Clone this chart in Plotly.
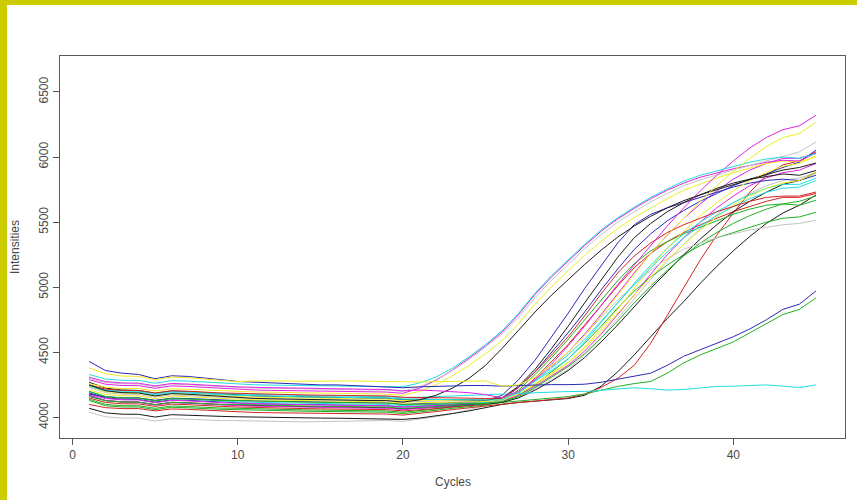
import plotly.graph_objects as go

# qPCR amplification curves: fluorescence intensity per cycle, one curve per well
cycles = list(range(1, 46))

# early amplifiers
a_cyan = [4330,4295,4285,4285,4262,4283,4279,4271,4263,4255,4251,4248,4246,4243,4241,4240,4238,4236,4236,4235,
          4265,4310,4380,4465,4560,4665,4800,4955,5090,5210,5330,5440,5535,5615,5690,5755,5815,5860,5895,5930,5960,5985,6000,5990,6025]
a_magenta = [4290,4255,4245,4244,4224,4242,4238,4230,4222,4215,4211,4208,4206,4203,4201,4200,4198,4196,4195,4185,
             4225,4285,4365,4455,4550,4655,4790,4945,5080,5200,5320,5430,5525,5605,5680,5745,5800,5845,5880,5910,5935,5960,5975,5970,6030]
a_gray = [4300,4268,4258,4257,4236,4255,4251,4243,4236,4230,4226,4223,4221,4218,4216,4215,4213,4211,4210,4200,
          4235,4290,4360,4445,4540,4640,4770,4920,5055,5175,5295,5405,5500,5580,5655,5720,5780,5825,5865,5900,5935,5970,6000,6040,6115]
a_yellow = [4260,4232,4222,4222,4203,4220,4216,4209,4203,4200,4196,4193,4191,4188,4186,4185,4183,4181,4180,4170,
            4200,4250,4320,4400,4490,4590,4720,4870,5005,5125,5245,5355,5450,5535,5610,5680,5745,5795,5840,5880,5915,5950,5970,5965,6000]
a_black = [4250,4205,4190,4188,4165,4183,4178,4170,4160,4150,4146,4143,4140,4137,4135,4134,4132,4130,4129,4118,
           4135,4170,4225,4300,4400,4530,4670,4810,4940,5060,5175,5285,5385,5470,5545,5610,5665,5710,5750,5790,5830,5865,5900,5920,5954]

# main group
b_blue1 = [4180,4158,4150,4150,4132,4148,4145,4139,4134,4130,4127,4124,4122,4120,4118,4117,4115,4113,4112,4102,
           4108,4112,4115,4118,4125,4170,4290,4440,4620,4800,4990,5170,5340,5480,5560,5610,5650,5690,5730,5770,5800,5820,5830,5820,5860]
b_black1 = [4270,4225,4210,4207,4185,4203,4198,4190,4180,4170,4166,4163,4160,4157,4155,4154,4152,4150,4149,4138,
            4140,4140,4138,4135,4132,4150,4240,4370,4530,4700,4880,5060,5230,5380,5490,5580,5650,5710,5760,5800,5830,5850,5870,5860,5897]
b_blue2 = [4190,4150,4140,4138,4118,4135,4131,4124,4117,4110,4106,4103,4101,4098,4096,4095,4093,4091,4090,4080,
           4085,4090,4095,4100,4108,4140,4230,4350,4500,4650,4810,4980,5140,5290,5410,5510,5590,5660,5720,5780,5830,5870,5920,5960,6053]
b_magenta1 = [4310,4275,4265,4263,4242,4261,4256,4248,4241,4235,4231,4228,4226,4223,4221,4220,4218,4216,4215,4204,
              4210,4205,4200,4190,4175,4150,4200,4290,4410,4550,4700,4860,5020,5170,5320,5470,5610,5740,5860,5970,6070,6150,6210,6240,6321]
b_yellow1 = [4380,4335,4318,4315,4290,4310,4305,4296,4285,4275,4280,4282,4280,4278,4280,4282,4280,4278,4276,4270,
             4272,4275,4278,4282,4280,4240,4250,4310,4400,4500,4630,4780,4940,5100,5260,5400,5530,5660,5780,5890,5990,6080,6150,6180,6267]
b_red1 = [4250,4218,4208,4207,4188,4205,4201,4193,4188,4185,4181,4178,4176,4173,4171,4170,4168,4166,4165,4155,
          4155,4152,4150,4148,4145,4150,4230,4350,4480,4620,4780,4950,5110,5240,5340,5420,5480,5530,5580,5620,5660,5690,5700,5700,5731]
b_red2 = [4150,4115,4105,4104,4085,4102,4098,4090,4085,4080,4076,4073,4071,4068,4066,4065,4063,4061,4060,4050,
          4058,4068,4080,4090,4100,4120,4190,4300,4430,4560,4710,4860,5010,5150,5260,5350,5420,5480,5530,5580,5620,5660,5690,5690,5720]
b_green1 = [4160,4128,4118,4117,4098,4116,4112,4104,4100,4100,4096,4093,4091,4088,4086,4085,4083,4081,4080,4070,
            4075,4082,4090,4097,4105,4130,4210,4330,4460,4600,4750,4900,5050,5180,5280,5350,5410,5460,5510,5560,5600,5630,5640,5630,5668]
b_green2 = [4130,4090,4080,4080,4060,4078,4074,4066,4062,4060,4056,4053,4051,4048,4046,4045,4043,4041,4040,4030,
            4040,4055,4070,4082,4095,4115,4170,4250,4350,4450,4570,4700,4840,4970,5080,5170,5250,5320,5380,5420,5460,5500,5530,5540,5576]
b_gray1 = [4230,4190,4178,4177,4155,4173,4168,4160,4155,4150,4146,4143,4141,4138,4136,4135,4133,4131,4130,4120,
           4122,4125,4128,4130,4132,4140,4200,4290,4390,4500,4630,4770,4900,5020,5130,5220,5290,5340,5380,5410,5440,5460,5480,5490,5515]
b_cyan1 = [4200,4160,4150,4148,4127,4145,4141,4133,4127,4120,4116,4113,4111,4108,4106,4105,4103,4101,4100,4090,
           4095,4100,4105,4110,4115,4130,4190,4280,4360,4450,4580,4730,4880,5030,5170,5300,5410,5500,5580,5650,5710,5760,5790,5790,5838]
b_magenta2 = [4170,4130,4118,4116,4095,4113,4109,4101,4095,4090,4086,4083,4081,4078,4076,4075,4073,4071,4070,4060,
              4068,4078,4088,4098,4108,4125,4190,4290,4390,4500,4640,4790,4950,5110,5260,5400,5530,5640,5740,5830,5900,5950,5990,5990,6030]
b_yellow2 = [4210,4176,4166,4165,4145,4163,4159,4151,4145,4140,4136,4133,4131,4128,4126,4125,4123,4121,4120,4110,
             4112,4115,4118,4120,4122,4130,4180,4260,4340,4420,4540,4680,4830,4990,5150,5300,5430,5550,5650,5740,5820,5880,5930,5950,6010]
b_magenta3 = [4180,4145,4135,4134,4113,4131,4127,4119,4113,4110,4106,4103,4101,4098,4096,4095,4093,4091,4090,4080,
              4085,4092,4100,4108,4115,4125,4170,4240,4320,4400,4510,4640,4790,4940,5100,5250,5380,5500,5610,5700,5780,5840,5880,5900,5950]
b_gray2 = [4040,4005,3995,3995,3972,3990,3986,3980,3976,3975,3972,3970,3968,3966,3968,3970,3972,3974,3976,3970,
           3985,4005,4030,4060,4090,4120,4160,4220,4290,4370,4480,4610,4760,4910,5060,5200,5330,5450,5560,5650,5720,5780,5820,5840,5880]
b_yellow3 = [4240,4198,4188,4186,4165,4183,4179,4171,4165,4160,4156,4153,4151,4148,4146,4145,4143,4141,4140,4130,
             4130,4132,4133,4134,4135,4140,4180,4250,4330,4420,4530,4660,4800,4940,5080,5210,5330,5440,5540,5630,5700,5760,5800,5820,5880]
b_green3 = [4200,4160,4150,4148,4127,4145,4141,4133,4130,4130,4126,4123,4121,4118,4116,4115,4113,4111,4110,4100,
            4100,4102,4104,4106,4108,4120,4160,4230,4310,4390,4490,4610,4740,4880,5010,5130,5240,5340,5420,5490,5550,5600,5640,5660,5700]
b_cyan2 = [4240,4205,4195,4194,4174,4191,4187,4179,4174,4170,4166,4163,4161,4158,4156,4155,4153,4151,4150,4140,
           4140,4140,4138,4136,4134,4135,4190,4280,4380,4480,4600,4740,4880,5020,5150,5270,5380,5470,5550,5620,5680,5730,5760,5770,5820]
b_black2 = [4170,4130,4120,4118,4098,4116,4112,4104,4099,4095,4091,4088,4086,4083,4081,4080,4078,4076,4075,4065,
            4070,4078,4086,4094,4102,4115,4150,4210,4280,4360,4460,4580,4710,4850,4990,5120,5250,5370,5480,5580,5660,5730,5790,5820,5880]

# late amplifiers
c_red = [4100,4075,4068,4068,4050,4065,4062,4055,4048,4040,4038,4036,4035,4034,4033,4032,4030,4028,4026,4018,
         4030,4045,4060,4075,4090,4105,4115,4125,4135,4150,4180,4230,4300,4400,4570,4780,5000,5210,5400,5570,5730,5860,5940,5970,6040]
c_black = [4070,4035,4025,4024,4003,4021,4017,4010,4008,4005,4002,4000,3998,3996,3995,3994,3993,3992,3991,3985,
           3995,4010,4030,4050,4075,4100,4115,4125,4135,4145,4170,4240,4350,4480,4620,4760,4890,5030,5160,5280,5390,5490,5570,5630,5708]
d_blue = [4430,4360,4340,4330,4297,4320,4315,4300,4290,4276,4270,4265,4260,4255,4250,4250,4245,4242,4238,4228,
          4235,4240,4242,4245,4245,4240,4245,4250,4252,4252,4255,4270,4295,4320,4340,4400,4470,4520,4570,4620,4680,4750,4830,4870,4971]
d_green = [4140,4100,4090,4090,4070,4088,4084,4076,4072,4070,4066,4063,4061,4058,4056,4055,4053,4051,4050,4040,
           4050,4065,4080,4095,4105,4115,4125,4135,4145,4160,4180,4210,4238,4260,4276,4340,4419,4480,4530,4580,4650,4720,4790,4830,4918]
# non-amplifying well
e_cyan = [4250,4212,4202,4201,4182,4199,4195,4187,4182,4180,4176,4173,4171,4168,4166,4165,4163,4161,4160,4150,
          4155,4160,4165,4170,4175,4180,4185,4190,4195,4199,4199,4210,4220,4228,4220,4210,4215,4225,4238,4240,4245,4250,4240,4230,4250]

x_ticks = [0, 10, 20, 30, 40]
y_ticks = [4000, 4500, 5000, 5500, 6000, 6500]

BLACK, RED, GREEN, BLUE = "#1a1a1a", "#d42424", "#22b022", "#2a2ab4"
CYAN, MAGENTA, YELLOW, GRAY = "#22dede", "#e024e0", "#eeee22", "#c4c4c4"

curves = [
    (b_gray2, GRAY), (c_black, BLACK), (c_red, RED), (d_green, GREEN),
    (b_green2, GREEN), (b_red2, RED), (b_black2, BLACK), (b_magenta2, MAGENTA),
    (b_green1, GREEN), (b_blue2, BLUE), (b_magenta3, MAGENTA), (b_cyan1, CYAN),
    (b_blue1, BLUE), (b_green3, GREEN), (b_yellow2, YELLOW), (b_gray1, GRAY),
    (b_yellow3, YELLOW), (b_black1, BLACK), (b_cyan2, CYAN), (e_cyan, CYAN),
    (b_red1, RED), (a_black, BLACK), (a_yellow, YELLOW), (a_magenta, MAGENTA),
    (a_gray, GRAY), (b_magenta1, MAGENTA), (a_cyan, CYAN), (d_blue, BLUE),
    (b_yellow1, YELLOW),
]

fig = go.Figure()
for values, color in curves:
    fig.add_trace(go.Scatter(x=cycles, y=values, mode="lines",
                             line=dict(color=color, width=1), showlegend=False,
                             hoverinfo="skip"))

# plot-area geometry in pixels (used for the frame decorations below)
W, H = 857, 500
L, R, T, B = 60, 845, 56, 438
pw, ph = R - L, B - T

def px(xp):
    return (xp - L) / pw

def py(yp):
    return (B - yp) / ph

axis_font = dict(family="Liberation Sans, Arial, sans-serif", size=12, color="#4a4a4a")

fig.update_layout(
    width=W, height=H,
    margin=dict(l=L, r=W - R, t=T, b=H - B),
    paper_bgcolor="white", plot_bgcolor="white",
    xaxis=dict(range=[-0.76, 46.76], tickvals=x_ticks, ticks="outside", ticklen=6,
               tickcolor="#555", tickwidth=1, tickfont=axis_font, showgrid=False,
               zeroline=False, showline=True, mirror=True, linecolor="#5a5a5a", linewidth=1),
    yaxis=dict(range=[3842, 6776], tickvals=y_ticks, ticks="outside", ticklen=6,
               tickcolor="#555", tickwidth=1, tickfont=axis_font, tickangle=-90, showgrid=False,
               zeroline=False, showline=True, mirror=True, linecolor="#5a5a5a", linewidth=1),
    shapes=[
        dict(type="rect", xref="paper", yref="paper", x0=px(0), x1=px(7), y0=py(H), y1=py(0),
             fillcolor="#cccc00", line=dict(width=0), layer="above"),
        dict(type="rect", xref="paper", yref="paper", x0=px(0), x1=px(W), y0=py(5), y1=py(0),
             fillcolor="#cccc00", line=dict(width=0), layer="above"),
    ],
    annotations=[
        dict(text="Cycles", xref="paper", yref="paper", x=0.5, y=py(482),
             showarrow=False, xanchor="center", yanchor="middle", font=axis_font),
        dict(text="Intensities", xref="paper", yref="paper", x=px(15), y=0.5, textangle=-90,
             showarrow=False, xanchor="center", yanchor="middle", font=axis_font),
    ],
)

fig.write_html("out.html")
